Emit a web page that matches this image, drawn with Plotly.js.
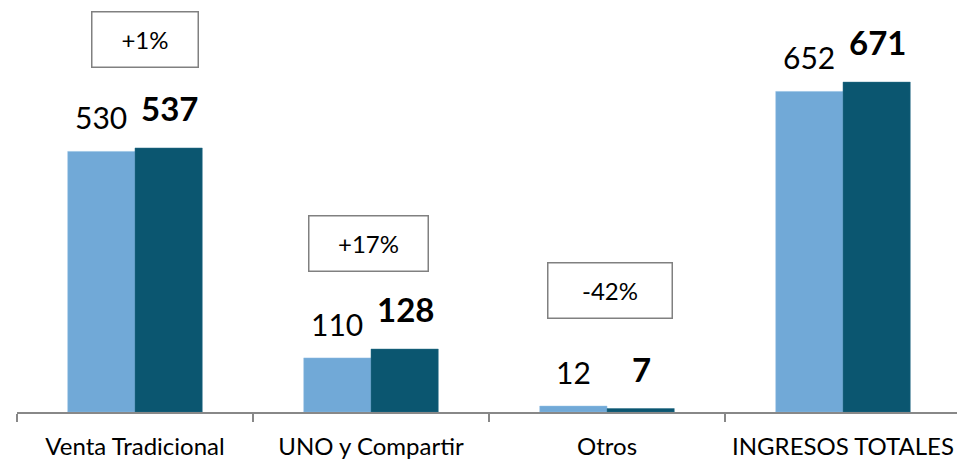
<!DOCTYPE html>
<html lang="es">
<head>
  <meta charset="UTF-8">
  <title>Ingresos</title>
  <script src="https://cdn.plot.ly/plotly-3.0.1.min.js"></script>
  <style>
    body { margin: 0; background: #fff; }
    #chart { width: 957px; height: 462px; }
  </style>
</head>
<body>
  <div id="chart"></div>
  <script>
    // data
    const categories = ["Venta Tradicional", "UNO y Compartir", "Otros", "INGRESOS TOTALES"];
    const prevValues = [530, 110, 12, 652];
    const currValues = [537, 128, 7, 671];
    const changeLabels = ["+1%", "+17%", "-42%", null];

    const lightBlue = "#71a9d7";
    const darkTeal = "#0b5670";
    const font = "Lato, 'Open Sans', sans-serif";

    const traces = [
      {
        type: "bar", x: categories, y: prevValues, name: "prev",
        marker: { color: lightBlue, line: { color: "#8fbde3", width: 0.5 } },
        hoverinfo: "y"
      },
      {
        type: "bar", x: categories, y: currValues, name: "curr",
        marker: { color: darkTeal, line: { color: "#2a6f88", width: 0.5 } },
        hoverinfo: "y"
      }
    ];

    // value labels above each bar
    let annotations = [];
    prevValues.forEach((v, i) => {
      annotations.push({
        x: i, y: v, xref: "x", yref: "y", text: String(v), showarrow: false,
        xshift: -34, yshift: 14, yanchor: "bottom",
        font: { family: font, size: 30, color: "#000" }
      });
    });
    currValues.forEach((v, i) => {
      annotations.push({
        x: i, y: v, xref: "x", yref: "y", text: "<b>" + v + "</b>", showarrow: false,
        xshift: 34, yshift: 18, yanchor: "bottom",
        font: { family: font, size: 33, color: "#000" }
      });
    });

    // boxed change labels
    const boxY = [758, 343, 248];
    const boxShift = [10, -3, 3];
    const boxW = [103, 116, 121];
    changeLabels.forEach((t, i) => {
      if (!t) return;
      annotations.push({
        x: i, y: boxY[i], xref: "x", yref: "y", text: t, showarrow: false,
        xshift: boxShift[i], width: boxW[i], height: 52,
        bordercolor: "#808080", borderwidth: 1.5, bgcolor: "#fff",
        font: { family: font, size: 24, color: "#000" }
      });
    });

    const layout = {
      width: 957, height: 462,
      margin: { l: 17, r: 0, t: 0, b: 50 },
      paper_bgcolor: "#fff", plot_bgcolor: "#fff",
      barmode: "group", bargap: 0.43, bargroupgap: 0,
      showlegend: false,
      font: { family: font, color: "#000" },
      xaxis: {
        type: "category",
        range: [-0.5, 3.483],
        showline: true, linecolor: "#888", linewidth: 1.5,
        ticks: "outside", tickson: "boundaries", ticklen: 8, tickcolor: "#888", tickwidth: 1.5,
        ticklabelstandoff: 13,
        tickfont: { family: font, size: 24, color: "#000" },
        showgrid: false, zeroline: false, fixedrange: true
      },
      yaxis: {
        range: [0, 838],
        visible: false, showgrid: false, zeroline: false, fixedrange: true
      },
      annotations: annotations
    };

    Plotly.newPlot("chart", traces, layout, { displayModeBar: false, staticPlot: true });
  </script>
</body>
</html>
